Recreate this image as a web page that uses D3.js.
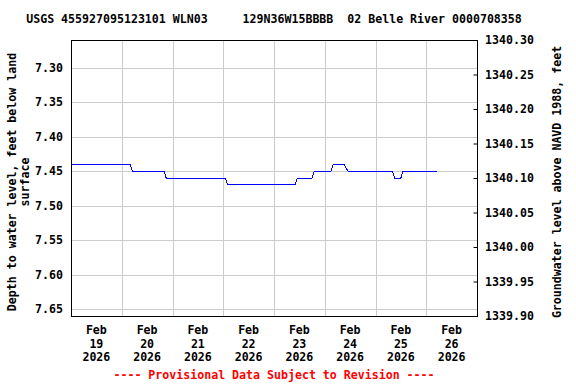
<!DOCTYPE html>
<html><head><meta charset="utf-8">
<script src="https://cdn.jsdelivr.net/npm/d3@7"></script>
<style>
body{margin:0;background:#fff;}
svg text{font-family:"DejaVu Sans Mono",monospace;font-weight:bold;font-size:11.6px;fill:#000;}
</style></head>
<body><svg id="c" width="576" height="384"></svg>
<script>
const titleText = "USGS 455927095123101 WLN03     129N36W15BBBB  02 Belle River 0000708358";
const leftLabel = ["Depth to water level, feet below land", "surface"];
const rightLabel = "Groundwater level above NAVD 1988, feet";
const footerText = "---- Provisional Data Subject to Revision ----";
const landSurface = 1347.56;
const depthTicks = [7.30, 7.35, 7.40, 7.45, 7.50, 7.55, 7.60, 7.65];
const elevTicks = [1339.90, 1339.95, 1340.00, 1340.05, 1340.10, 1340.15, 1340.20, 1340.25, 1340.30];
const dayTicks = ["2026-02-19","2026-02-20","2026-02-21","2026-02-22","2026-02-23","2026-02-24","2026-02-25","2026-02-26"];
const obsTimes = ["2026-02-19T00:00","2026-02-20T04:00","2026-02-20T05:00","2026-02-20T20:00","2026-02-20T21:00",
  "2026-02-22T01:00","2026-02-22T02:00","2026-02-23T10:00","2026-02-23T11:00","2026-02-23T18:00","2026-02-23T19:00",
  "2026-02-24T03:00","2026-02-24T04:00","2026-02-24T09:00","2026-02-24T11:00","2026-02-25T08:00","2026-02-25T09:00",
  "2026-02-25T12:00","2026-02-25T13:00","2026-02-26T05:00"];
const obsDepth = [7.44,7.44,7.45,7.45,7.46,7.46,7.47,7.47,7.46,7.46,7.45,7.45,7.44,7.44,7.45,7.45,7.46,7.46,7.45,7.45];

const L=71,R=477,T=40,B=316;
const parse=d3.timeParse("%Y-%m-%dT%H:%M");
const pday=d3.timeParse("%Y-%m-%d");
const x=d3.scaleTime().domain([pday("2026-02-19"),pday("2026-02-27")]).range([L,R]);
const eTop=elevTicks[elevTicks.length-1], eBot=elevTicks[0];
const y=d3.scaleLinear().domain([landSurface-eTop, landSurface-eBot]).range([T,B]);
const yR=d3.scaleLinear().domain([eTop,eBot]).range([T,B]);
const svg=d3.select("#c");

// grid
svg.append("g").selectAll("line").data(depthTicks).join("line")
 .attr("x1",L).attr("x2",R).attr("y1",d=>Math.round(y(d))+0.5).attr("y2",d=>Math.round(y(d))+0.5)
 .attr("stroke","#cccccc").attr("stroke-width",1);
svg.append("g").selectAll("line").data(dayTicks.slice(1)).join("line")
 .attr("y1",T).attr("y2",B).attr("x1",d=>Math.round(x(pday(d)))+0.5).attr("x2",d=>Math.round(x(pday(d)))+0.5)
 .attr("stroke","#cccccc").attr("stroke-width",1);

// data line
const pts=obsTimes.map((t,i)=>[parse(t),obsDepth[i]]);
svg.append("path").datum(pts).attr("fill","none").attr("stroke","#0000ff").attr("stroke-width",1)
 .attr("shape-rendering","crispEdges")
 .attr("d",d3.line().x(d=>x(d[0])).y(d=>y(d[1])));

// frame
svg.append("rect").attr("x",L+0.5).attr("y",T+0.5).attr("width",R-L).attr("height",B-T)
 .attr("fill","none").attr("stroke","#000").attr("stroke-width",1);

// left axis labels
const gl=svg.append("g").attr("transform",`translate(${L},0)`)
 .call(d3.axisLeft(y).tickValues(depthTicks).tickFormat(d3.format(".2f")).tickSize(0).tickPadding(8));
gl.select(".domain").remove();
gl.attr("font-family",null).attr("font-size",null);

// right axis
const gr=svg.append("g").attr("transform",`translate(${R},0)`)
 .call(d3.axisRight(yR).tickValues(elevTicks).tickFormat(d3.format(".2f")).tickSize(-4).tickPadding(8));
gr.select(".domain").remove();
gr.selectAll("line").attr("stroke","#000").attr("transform","translate(0.5,0)");
gr.attr("font-family",null).attr("font-size",null);

// x labels
const xl=svg.append("g");
dayTicks.forEach(d=>{
  const dt=d3.timeHour.offset(pday(d),12);
  const t=xl.append("text").attr("text-anchor","middle").attr("x",x(dt));
  [d3.timeFormat("%b")(dt),d3.timeFormat("%d")(dt),d3.timeFormat("%Y")(dt)].forEach((s,i)=>{
    t.append("tspan").attr("x",x(dt)).attr("y",334+i*13.5).text(s);
  });
});

// title
svg.append("text").attr("x",(L+R)/2).attr("y",23).attr("text-anchor","middle").attr("xml:space","preserve").text(titleText);
// footer
svg.append("text").attr("x",(L+R)/2).attr("y",379).attr("text-anchor","middle").style("fill","#ff0000").text(footerText);
// left title
const lt=svg.append("text").attr("transform","translate(16,182) rotate(-90)").attr("text-anchor","middle");
lt.append("tspan").attr("x",0).attr("y",0).text(leftLabel[0]);
lt.append("tspan").attr("x",0).attr("y",13).text(leftLabel[1]);
// right title
svg.append("text").attr("transform","translate(561,182) rotate(-90)").attr("text-anchor","middle").text(rightLabel);
</script></body></html>
